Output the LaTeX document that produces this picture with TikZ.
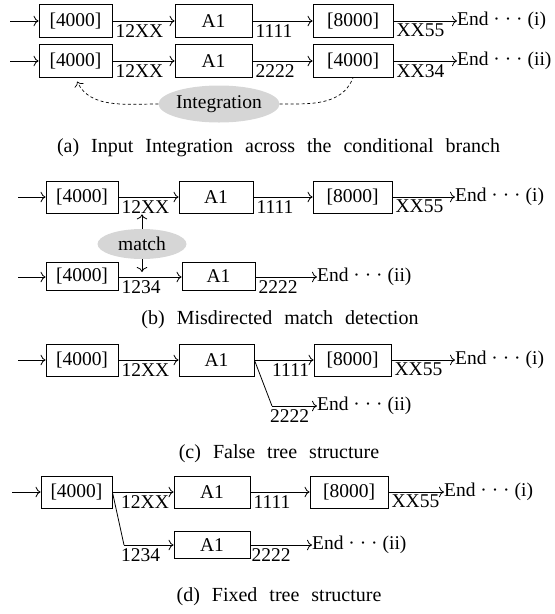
\documentclass[tikz,border=0pt]{standalone}
\usepackage{fontspec}
\setmainfont{Liberation Serif}
\usetikzlibrary{shapes.geometric,arrows.meta}
\newcommand\mycapfont{\fontsize{20}{24}\selectfont\spaceskip 12pt\relax}
\begin{document}
\begin{tikzpicture}[x=1pt,y=-1pt,
  >={To[scale=1.5]},
  every node/.style={font=\fontsize{19.5}{23}\selectfont},
  blk/.style={draw, line width=0.8pt, minimum height=32pt, inner sep=0pt},
  lab/.style={anchor=north west, inner sep=0pt},
  endt/.style={anchor=west, inner sep=0pt},
  arr/.style={->, line width=0.8pt},
  ln/.style={line width=0.8pt},
  dsh/.style={line width=0.7pt, dash pattern=on 3pt off 2.5pt},
  bub/.style={ellipse, fill=black!16, inner sep=0pt},
  captext/.style={font=\mycapfont}
]
\useasboundingbox (0,0) rectangle (555,614);

% ---------------- (a)
\coordinate (a0) at (10,21);
\node[blk, minimum width=73pt, minimum height=33pt] (a1) at (75.5,21) {[4000]};
\node[blk, minimum width=77pt, minimum height=33pt] (a2) at (213.5,21) {A1};
\node[blk, minimum width=80pt, minimum height=33pt] (a3) at (353,21) {[8000]};
\node[endt] (a4) at (457,21) {End · · · (i)};
\draw[arr] (a0) -- (a1);
\draw[arr] (a1) -- (a2);
\draw[arr] (a2) -- (a3);
\draw[arr] (a3) -- (a4);
\node[lab] (la1) at ([shift={(3pt,-3pt)}]a1.east) {12XX};
\node[lab] (la2) at ([shift={(3pt,-3pt)}]a2.east) {1111};
\node[lab] (la3) at ([shift={(3pt,-3pt)}]a3.east) {XX55};

\coordinate (b0) at (10,61);
\node[blk, minimum width=73pt, minimum height=33pt] (b1) at (75.5,61) {[4000]};
\node[blk, minimum width=77pt, minimum height=33pt] (b2) at (213.5,61) {A1};
\node[blk, minimum width=80pt, minimum height=33pt] (b3) at (353,61) {[4000]};
\node[endt] (b4) at (457,61) {End · · · (ii)};
\draw[arr] (b0) -- (b1);
\draw[arr] (b1) -- (b2);
\draw[arr] (b2) -- (b3);
\draw[arr] (b3) -- (b4);
\node[lab] (lb1) at ([shift={(3pt,-3pt)}]b1.east) {12XX};
\node[lab] (lb2) at ([shift={(3pt,-3pt)}]b2.east) {2222};
\node[lab] (lb3) at ([shift={(3pt,-3pt)}]b3.east) {XX34};

\node[bub, minimum width=113pt, minimum height=37pt] (ai) at (219,104) {Integration};
\draw[dsh, ->, shorten >=4pt] (ai.west) to[out=180, in=-65] (b1.south);
\draw[dsh] (ai.east) to[out=0, in=-112] (b3.south);

\node[captext] (capa) at (278.5,148) {(a) Input Integration across the conditional branch};

% ---------------- (b)
\coordinate (c0) at (18,197);
\node[blk, minimum width=72pt] (c1) at (82,197) {[4000]};
\node[blk, minimum width=74pt] (c2) at (216,197) {A1};
\node[blk, minimum width=79pt] (c3) at (352.5,197) {[8000]};
\node[endt] (c4) at (455,197) {End · · · (i)};
\draw[arr] (c0) -- (c1);
\draw[arr] (c1) -- (c2);
\draw[arr] (c2) -- (c3);
\draw[arr] (c3) -- (c4);
\node[lab] (lc1) at ([shift={(3pt,-3pt)}]c1.east) {12XX};
\node[lab] (lc2) at ([shift={(3pt,-3pt)}]c2.east) {1111};
\node[lab] (lc3) at ([shift={(3pt,-3pt)}]c3.east) {XX55};

\coordinate (d0) at (18,277);
\node[blk, minimum width=72pt, minimum height=28pt] (d1) at (82,276) {[4000]};
\node[blk, minimum width=73pt, minimum height=28pt] (d2) at (218.5,276) {A1};
\node[endt] (d4) at (317,277) {End · · · (ii)};
\draw[arr] (d0) -- (d0 -| d1.west);
\draw[arr] (d0 -| d1.east) -- (d0 -| d2.west);
\draw[arr] (d0 -| d2.east) -- (d4);
\coordinate (dl1) at (d0 -| d1.east);
\coordinate (dl2) at (d0 -| d2.east);
\node[lab] (ld1) at ([shift={(3pt,-3pt)}]dl1) {1234};
\node[lab] (ld2) at ([shift={(3pt,-3pt)}]dl2) {2222};

\node[bub, minimum width=89pt, minimum height=30pt] (cm) at (142,244) {match};
\draw[arr, shorten >=1pt] (cm.north) -- (cm.north |- lc1.south);
\draw[arr, shorten >=5pt] (cm.south) -- (cm.south |- d0);

\node[captext] (capb) at (280,320) {(b) Misdirected match detection};

% ---------------- (c)
\coordinate (e0) at (18,360);
\node[blk, minimum width=72pt] (e1) at (82,360) {[4000]};
\node[blk, minimum width=75pt] (e2) at (216.5,360) {A1};
\node[blk, minimum width=77pt] (e3) at (352.5,360) {[8000]};
\node[endt] (e4) at (455,360) {End · · · (i)};
\coordinate (ek) at (272,406);
\coordinate (ek2) at (272,360);
\node[endt] (e5) at (317,406) {End · · · (ii)};
\draw[arr] (e0) -- (e1);
\draw[arr] (e1) -- (e2);
\draw[arr] (e2) -- (e3);
\draw[arr] (e3) -- (e4);
\draw[ln] (e2.east) -- (ek);
\draw[arr] (ek) -- (e5);
\node[lab] (le1) at ([shift={(3pt,-3pt)}]e1.east) {12XX};
\node[lab] (le2) at ([shift={(0pt,-3pt)}]ek2) {1111};
\node[lab] (le3) at ([shift={(3pt,-3pt)}]e3.east) {XX55};
\node[lab] (le4) at ([shift={(-2pt,-3pt)}]ek) {2222};

\node[captext] (capc) at (279,454) {(c) False tree structure};

% ---------------- (d)
\coordinate (f0) at (12,492);
\node[blk, minimum width=71pt] (f1) at (76.5,492) {[4000]};
\node[blk, minimum width=76pt] (f2) at (212,492) {A1};
\node[blk, minimum width=78pt] (f3) at (349,492) {[8000]};
\node[endt] (f4) at (444,492) {End · · · (i)};
\coordinate (fk) at (124,545);
\coordinate (fk2) at (124,492);
\node[blk, minimum width=76pt, minimum height=27pt] (f5) at (212,545) {A1};
\node[endt] (f6) at (312,545) {End · · · (ii)};
\draw[arr] (f0) -- (f1);
\draw[arr] (f1) -- (f2);
\draw[arr] (f2) -- (f3);
\draw[arr] (f3) -- (f4);
\draw[ln] (f1.east) -- (fk);
\draw[arr] (fk) -- (f5);
\draw[arr] (f5) -- (f6);
\node[lab] (lf1) at ([shift={(-3pt,-3pt)}]fk2) {12XX};
\node[lab] (lf2) at ([shift={(3pt,-3pt)}]f2.east) {1111};
\node[lab] (lf3) at ([shift={(3pt,-3pt)}]f3.east) {XX55};
\node[lab] (lf4) at ([shift={(-3pt,-3pt)}]fk) {1234};
\node[lab] (lf5) at ([shift={(1pt,-3pt)}]f5.east) {2222};

\node[captext] (capd) at (279,597) {(d) Fixed tree structure};
\end{tikzpicture}
\end{document}
